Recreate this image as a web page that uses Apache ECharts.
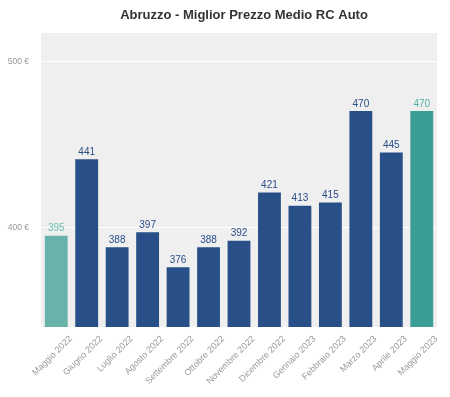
<!DOCTYPE html>
<html>
<head>
<meta charset="utf-8">
<script src="https://cdn.jsdelivr.net/npm/echarts@6/dist/echarts.min.js"></script>
<style>
  html, body { margin: 0; padding: 0; background: #fff; }
  #chart { width: 450px; height: 397px; }
</style>
</head>
<body>
<div id="chart"></div>
<script>
const months = ['Maggio 2022', 'Giugno 2022', 'Luglio 2022', 'Agosto 2022', 'Settembre 2022', 'Ottobre 2022',
  'Novembre 2022', 'Dicembre 2022', 'Gennaio 2023', 'Febbraio 2023', 'Marzo 2023', 'Aprile 2023', 'Maggio 2023'];
const prices = [395, 441, 388, 397, 376, 388, 392, 421, 413, 415, 470, 445, 470];
const yTicks = [400, 500];

// first and last bar are highlighted in teal
const barColor = (i) => i === 0 ? '#67b3aa' : (i === prices.length - 1 ? '#3a9e94' : '#284f87');
const labelColor = (i) => i === 0 ? '#6cc0b4' : (i === prices.length - 1 ? '#4fb3a6' : '#2a4d8a');

const chart = echarts.init(document.getElementById('chart'));
chart.setOption({
  animation: false,
  title: {
    text: 'Abruzzo - Miglior Prezzo Medio RC Auto',
    left: 239,
    textAlign: 'center',
    top: 4,
    textStyle: { fontFamily: 'Liberation Sans', fontSize: 13, fontWeight: 'bold', color: '#333' }
  },
  grid: {
    left: 41, right: 13, top: 33, bottom: 70,
    show: true, backgroundColor: '#efefef', borderWidth: 0
  },
  xAxis: {
    type: 'category',
    data: months,
    axisLine: { show: false },
    axisTick: { show: false },
    axisLabel: {
      rotate: 45, interval: 0, margin: -4,
      verticalAlign: 'top', padding: [16, 0, 0, 0],
      color: '#999', fontSize: 9, fontFamily: 'Liberation Sans'
    }
  },
  yAxis: {
    type: 'value',
    min: 340, max: 517,
    axisLine: { show: false },
    axisTick: { show: false },
    splitLine: { show: false },
    axisLabel: {
      customValues: yTicks,
      formatter: (v) => v + ' €',
      color: '#999', fontSize: 8.5, fontFamily: 'Liberation Sans', margin: 12
    }
  },
  series: [
    {
      // white guide lines at the tick values, behind the bars
      type: 'line',
      data: [],
      z: 1,
      markLine: {
        z: 1,
        silent: true, symbol: 'none', label: { show: false },
        lineStyle: { color: '#fff', width: 1, type: 'solid' },
        data: yTicks.map(v => ({ yAxis: v }))
      }
    },
    {
      type: 'bar',
      barCategoryGap: '25%',
      z: 3,
      data: prices.map((v, i) => ({
        value: v,
        itemStyle: { color: barColor(i) },
        label: { color: labelColor(i) }
      })),
      label: {
        show: true, position: 'top', distance: 2,
        fontSize: 10, fontFamily: 'Liberation Sans'
      }
    }
  ]
});
</script>
</body>
</html>
